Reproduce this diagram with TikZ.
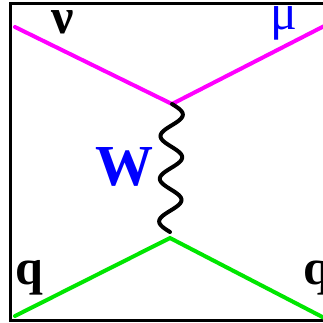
\documentclass[tikz,border=0pt]{standalone}
\usepackage{fontspec}
\setmainfont{Liberation Serif}

\definecolor{fermion}{RGB}{255,0,255}
\definecolor{quark}{RGB}{0,230,0}
\definecolor{labelblue}{RGB}{0,0,255}

\tikzset{
  lepton/.style={draw=fermion, line width=4pt},
  quarkline/.style={draw=quark, line width=4pt},
  boson/.style={line width=4pt, line cap=round},
  lbl/.style={inner sep=0pt}
}

\begin{document}
\begin{tikzpicture}[x=1pt, y=-1pt]
      \useasboundingbox (0,0) rectangle (323,322);
      \clip (0,0) rectangle (323,322);
      \fill[white] (0,0) rectangle (323,322);
      \draw[line width=3pt] (10,3) rectangle (340,320);
      % vertices and open ends
      \coordinate (vtop) at (172,104);
      \coordinate (vbot) at (170,238);
      \coordinate (nuin) at (15,27);
      \coordinate (muout) at (334,21);
      \coordinate (qin) at (15,316);
      \coordinate (qout) at (334,323);
      % labels
      \node[lbl, font=\fontsize{50}{50}\selectfont\bfseries] (nu) at (63,22) {ν};
      \node[lbl, text=labelblue, font=\fontsize{50}{50}\selectfont] (mu) at (284,23) {μ};
      \node[lbl, text=labelblue, font=\fontsize{58}{58}\selectfont\bfseries] (w) at (124,167) {W};
      \node[lbl, font=\fontsize{50}{50}\selectfont\bfseries] (qa) at (29,278) {q};
      \node[lbl, font=\fontsize{50}{50}\selectfont\bfseries] (qb) at (317,278) {q};
      % lines
      \draw[lepton, line cap=round] (nuin) -- (vtop) -- (muout);
      \draw[quarkline, line cap=round] (qin) -- (vbot) -- (qout);
      % W propagator, 3 waves from vtop down
      \draw[boson, shift={(vtop)}] plot[domain=0:128, samples=121, smooth]
        ({-\x/64 + 11*sin(\x*8.437)}, \x);
    \end{tikzpicture}
\end{document}
